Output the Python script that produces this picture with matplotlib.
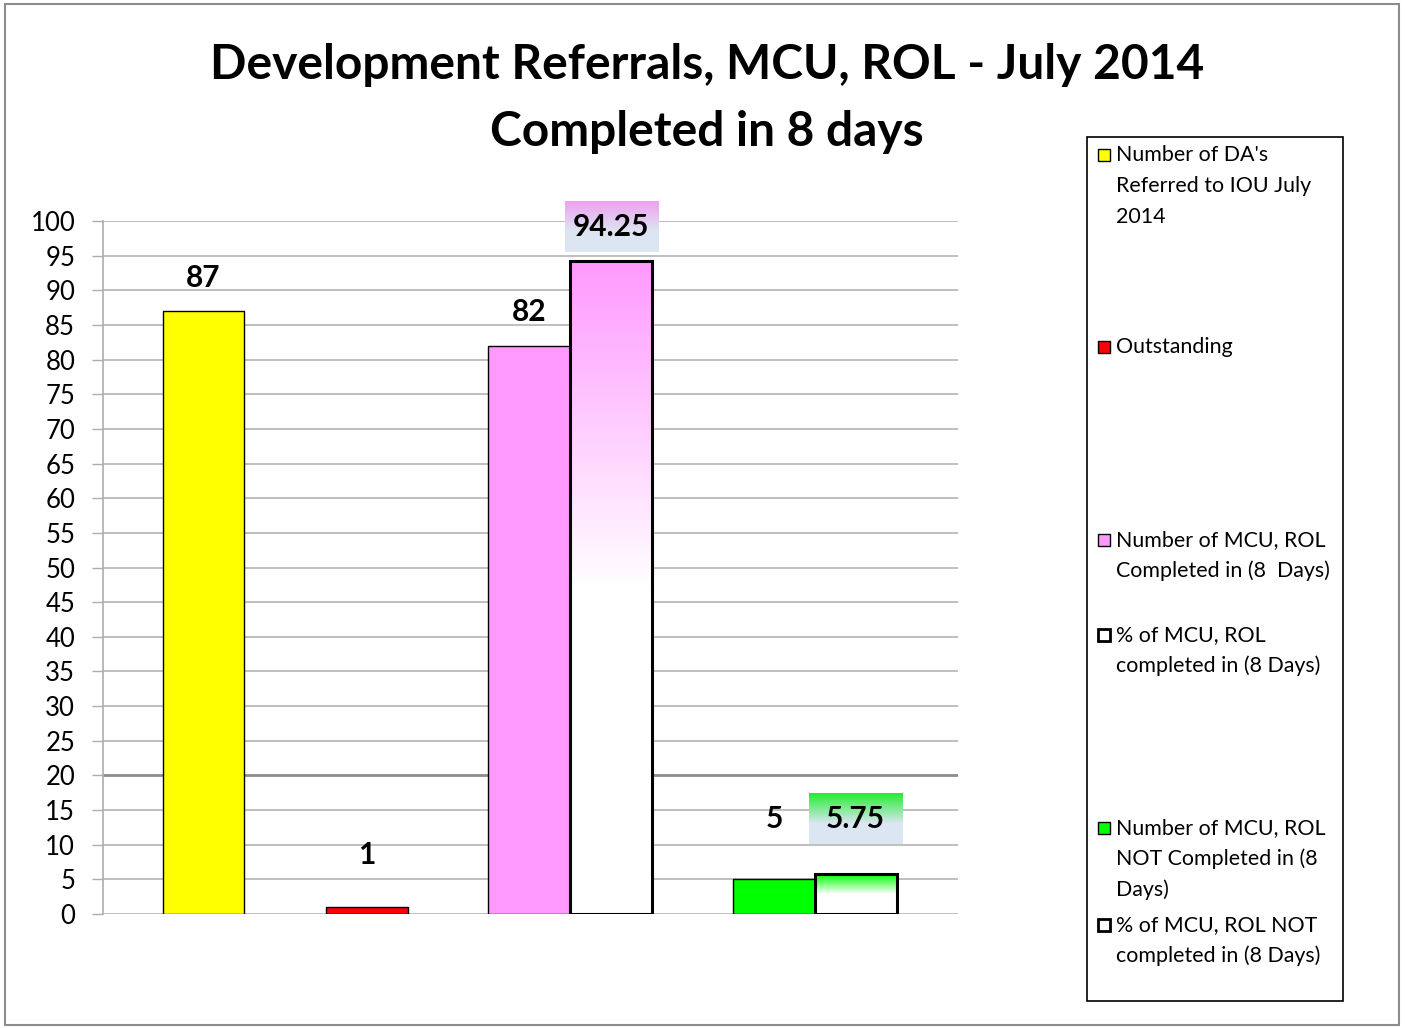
import matplotlib
matplotlib.use("Agg")
import matplotlib.pyplot as plt
import numpy as np
from matplotlib.patches import Rectangle
from matplotlib.colors import to_rgb

# ---------------- data ----------------
series_names = [
    ["Number of DA's", "Referred to IOU July", "2014"],
    ["Outstanding"],
    ["Number of MCU, ROL", "Completed in (8  Days)"],
    ["% of MCU, ROL", "completed in (8 Days)"],
    ["Number of MCU, ROL", "NOT Completed in (8", "Days)"],
    ["% of MCU, ROL NOT", "completed in (8 Days)"],
]
values = [87, 1, 82, 94.25, 5, 5.75]
value_labels = ["87", "1", "82", "94.25", "5", "5.75"]
colors = ["#ffff00", "#ff0000", "#ff99ff", "#ff99ff", "#00ff00", "#00ff00"]
gradient = [False, False, False, True, False, True]
yticks = list(range(0, 101, 5))
title = "Development Referrals, MCU, ROL - July 2014\nCompleted in 8 days"

# ---------------- layout ----------------
W, H = 1405, 1028
FONT = "Lato"
plt.rcParams["font.family"] = [FONT, "DejaVu Sans"]
fig = plt.figure(figsize=(W / 100, H / 100), dpi=100)

def fx(px):
    return px / W

def fy(py):
    return 1 - py / H

ax = fig.add_axes([fx(103), fy(914), fx(958) - fx(103), fy(221) - fy(914)])
centers = [1.226, 3.22, 5.20, 6.20, 8.19, 9.18]
bar_w = 1.0
label_off = [4.8, 7.5, 4.9, 4.9, 8.7, 8.0]
ax.set_xlim(0, 10.43)
ax.set_ylim(0, 100)

for y in yticks:
    ax.axhline(y, color="#8c8c8c" if y == 20 else "#adadad",
               lw=2.0 if y == 20 else 1.1, zorder=0)

for i, (c, v, col, g) in enumerate(zip(centers, values, colors, gradient)):
    if not g:
        ax.bar(c, v, width=bar_w, color=col, edgecolor="black", lw=1.0, zorder=2)
    else:
        bars = ax.bar(c, v, width=bar_w, facecolor="none", edgecolor="black",
                      lw=2.2, zorder=3)
        rgb = np.array(to_rgb(col))
        t = np.linspace(0, 1, 256)  # 0 top -> 1 bottom
        f = np.clip(t / 0.5, 0, 1)[:, None]
        img = rgb[None, :] * (1 - f) + np.ones(3)[None, :] * f
        img = np.repeat(img[:, None, :], 2, axis=1)
        im = ax.imshow(img, extent=[c - bar_w / 2, c + bar_w / 2, 0, v],
                       aspect="auto", zorder=2, interpolation="bilinear")
        im.set_clip_path(bars[0])
        # label box gradient
        top_col = np.array(to_rgb("#f0a0f0" if col == "#ff99ff" else "#22ee33"))
        bot_col = np.array(to_rgb("#dce6f2"))
        f2 = np.clip(t / 0.6, 0, 1)[:, None]
        img2 = top_col[None, :] * (1 - f2) + bot_col[None, :] * f2
        img2 = np.repeat(img2[:, None, :], 2, axis=1)
        ly = v + label_off[i]
        ax.imshow(img2, extent=[c - 0.57, c + 0.57, ly - 3.6, ly + 3.75],
                  aspect="auto", zorder=4, clip_on=False,
                  interpolation="bilinear")
    ax.text(c, v + label_off[i], value_labels[i], ha="center", va="center",
            fontsize=21.5, fontweight="bold", zorder=5, clip_on=False)

ax.set_xlim(0, 10.43)
ax.set_ylim(0, 100)
ax.set_yticks(yticks)
ax.set_yticklabels([str(y) for y in yticks], fontsize=18.5)
ax.set_xticks([])
ax.tick_params(axis="y", length=8, width=1.0, color="#adadad", pad=12)
for s in ["top", "right", "bottom"]:
    ax.spines[s].set_visible(False)
ax.spines["left"].set_color("#adadad")
ax.spines["left"].set_linewidth(1.2)
ax.patch.set_alpha(0)

# title
fig.text(fx(707), fy(65), title.split("\n")[0], ha="center", va="center",
         fontsize=34.5, fontweight="bold")
fig.text(fx(707), fy(132), title.split("\n")[1], ha="center", va="center",
         fontsize=34.5, fontweight="bold")

# legend (manual, Excel-like spacing)
fig.add_artist(Rectangle((fx(1087), fy(1001)), fx(1343) - fx(1087),
                         fy(137) - fy(1001), transform=fig.transFigure,
                         facecolor="white", edgecolor="black", lw=1.2))
entry_y = [155, 347, 540, 635, 828, 925]
line_h = 31
for names, col, g, ey in zip(series_names, colors, gradient, entry_y):
    fc = "white" if g else col
    lw = 2.0 if g else 1.0
    fig.add_artist(Rectangle((fx(1098), fy(ey + 6)), fx(12), 12 / H,
                             transform=fig.transFigure, facecolor=fc,
                             edgecolor="black", lw=lw))
    for k, line in enumerate(names):
        fig.text(fx(1116), fy(ey + k * line_h), line, ha="left", va="center",
                 fontsize=15.4)

# outer frame
fig.add_artist(Rectangle((fx(5), fy(1025)), fx(1399) - fx(5), fy(4) - fy(1025),
                         transform=fig.transFigure, facecolor="none",
                         edgecolor="#8c8c8c", lw=1.5))

fig.savefig("out.png", dpi=100)
